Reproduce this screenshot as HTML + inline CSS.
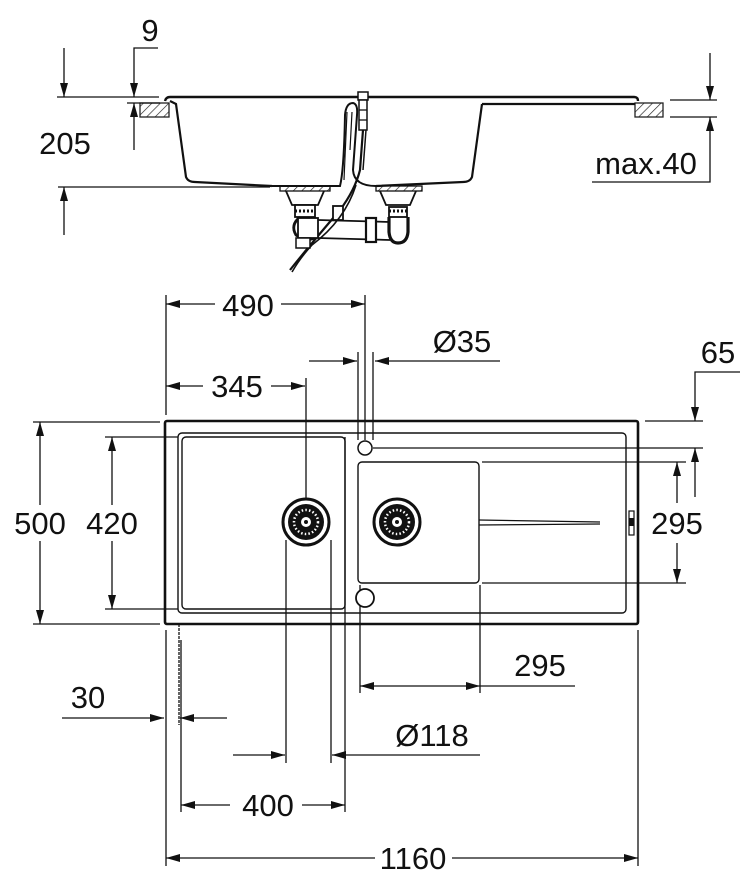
<!DOCTYPE html>
<html><head><meta charset="utf-8"><style>
html,body{margin:0;padding:0;background:#fff}
svg{display:block}
text{font-family:"Liberation Sans",Arial,sans-serif;font-size:31px;fill:#111;text-anchor:middle}
</style></head><body>
<svg width="756" height="884" viewBox="0 0 756 884" xmlns="http://www.w3.org/2000/svg">
<defs>
<marker id="a" viewBox="0 0 14 8" refX="14" refY="4" markerWidth="14" markerHeight="8" markerUnits="userSpaceOnUse" orient="auto"><path d="M0,0 L14,4 L0,8 Z" fill="#111"/></marker>
<pattern id="h" width="6" height="6" patternUnits="userSpaceOnUse" patternTransform="rotate(45)"><line x1="0" y1="0" x2="0" y2="6" stroke="#222" stroke-width="1.3"/></pattern>
<g id="drain">
<circle r="23" fill="#fff" stroke="#111" stroke-width="3"/>
<circle r="18" fill="#111"/>
<circle r="12" fill="none" stroke="#fff" stroke-width="2.5" stroke-dasharray="1.5 2.2"/>
<circle r="5" fill="#fff"/>
<circle r="2" fill="#111"/>
</g>
</defs>
<g stroke="#111" fill="none" stroke-width="1.3">
<!-- TOP SECTION -->
<rect x="140" y="103" width="29" height="14" fill="url(#h)" stroke="#222"/>
<rect x="635" y="103" width="28" height="14" fill="url(#h)" stroke="#222"/>
<line x1="57" y1="97" x2="159" y2="97"/>
<line x1="127" y1="103" x2="160" y2="103"/>
<line x1="64" y1="48" x2="64" y2="97" marker-end="url(#a)"/>
<line x1="64" y1="235" x2="64" y2="187" marker-end="url(#a)"/>
<line x1="58" y1="187" x2="270" y2="187"/>
<polyline points="158,48 134,48 134,97" marker-end="url(#a)"/>
<line x1="134" y1="150" x2="134" y2="103" marker-end="url(#a)"/>
<line x1="710" y1="53" x2="710" y2="100" marker-end="url(#a)"/>
<line x1="670" y1="100" x2="717" y2="100"/>
<line x1="670" y1="117" x2="717" y2="117"/>
<polyline points="592,182 710,182 710,117" marker-end="url(#a)"/>
<!-- sink profile -->
<path d="M165,101 Q166,97 170,97 L634,97 Q638,97 638,101" stroke-width="2.4"/>
<path d="M170,101 L176,104 L186,177 Q188,182 195,182 L272,186" stroke-width="2.2"/>
<path d="M482,104 L635,104" stroke-width="2.2"/>
<path d="M482,104 L472,177 Q470,182 463,182 L376,186" stroke-width="2.2"/>
<path d="M272,186 L283,186 L340,186 Q344,170 345,115 Q346,103 353,103 Q358,104 357,115 L353,170 Q354,186 376,186" stroke-width="2"/>
<path d="M347,112 L344,180 M352,112 L350,150" stroke-width="1.2"/>
<!-- tap -->
<rect x="358" y="92" width="10" height="8" fill="#fff" stroke-width="1.5"/>
<rect x="359" y="100" width="8" height="30" fill="#fff" stroke-width="1.5"/>
<line x1="359" y1="110" x2="367" y2="110"/><line x1="359" y1="120" x2="367" y2="120"/>
<path d="M363,130 L360,170 Q355,190 340,210 Q310,245 290,270" stroke-width="2.2"/>
<path d="M366,130 L363,170" stroke-width="1.5"/>
<!-- left drain -->
<rect x="280" y="186" width="50" height="5" fill="url(#h)"/>
<path d="M286,191 L292,205 L318,205 L324,191" stroke-width="1.8"/>
<rect x="295" y="205" width="20" height="12" fill="#fff" stroke-width="1.8"/>
<line x1="295" y1="211" x2="315" y2="211" stroke-width="3" stroke-dasharray="2 2"/>
<path d="M300,217 Q290,225 296,235 Q305,242 315,238" stroke-width="2.8"/>
<rect x="298" y="218" width="20" height="20" fill="#fff" stroke-width="1.8"/>
<rect x="296" y="238" width="14" height="10" fill="#fff" stroke-width="1.5"/>
<!-- right drain -->
<rect x="376" y="186" width="46" height="5" fill="url(#h)"/>
<path d="M380,191 L386,205 L410,205 L416,191" stroke-width="1.8"/>
<rect x="389" y="207" width="18" height="10" fill="#fff" stroke-width="1.8"/>
<line x1="389" y1="211" x2="407" y2="211" stroke-width="3" stroke-dasharray="2 2"/>
<path d="M389,217 L389,232 Q390,243 398,243 Q407,243 408,232 L408,217" stroke-width="3.2"/>
<!-- horizontal pipe -->
<path d="M318,220 L390,222 M318,238 L390,240" stroke-width="1.8"/>
<rect x="366" y="218" width="10" height="24" fill="#fff" stroke-width="2.2"/>
<rect x="333" y="206" width="10" height="14" fill="#fff" stroke-width="1.8"/>
<path d="M356,185 Q345,220 312,245 Q300,258 292,272" stroke-width="1.6"/>

<!-- PLAN VIEW dimension lines -->
<line x1="166" y1="295" x2="166" y2="415"/>
<line x1="365" y1="295" x2="365" y2="440"/>
<line x1="215" y1="304" x2="166" y2="304" marker-end="url(#a)"/>
<line x1="281" y1="304" x2="365" y2="304" marker-end="url(#a)"/>
<line x1="358" y1="352" x2="358" y2="440"/>
<line x1="373" y1="352" x2="373" y2="440"/>
<line x1="309" y1="361" x2="357" y2="361" marker-end="url(#a)"/>
<line x1="500" y1="361" x2="375" y2="361" marker-end="url(#a)"/>
<line x1="203" y1="386" x2="166" y2="386" marker-end="url(#a)"/>
<line x1="271" y1="386" x2="305" y2="386" marker-end="url(#a)"/>
<line x1="306" y1="378" x2="306" y2="500"/>
<polyline points="740,372 695,372 695,421" marker-end="url(#a)"/>
<line x1="645" y1="421" x2="703" y2="421"/>
<line x1="373" y1="448" x2="703" y2="448"/>
<line x1="695" y1="497" x2="695" y2="448" marker-end="url(#a)"/>
<line x1="482" y1="462" x2="686" y2="462"/>
<line x1="482" y1="583" x2="686" y2="583"/>
<line x1="677" y1="503" x2="677" y2="462" marker-end="url(#a)"/>
<line x1="677" y1="543" x2="677" y2="583" marker-end="url(#a)"/>
<line x1="33" y1="422" x2="160" y2="422"/>
<line x1="33" y1="624" x2="160" y2="624"/>
<line x1="40" y1="505" x2="40" y2="422" marker-end="url(#a)"/>
<line x1="40" y1="541" x2="40" y2="624" marker-end="url(#a)"/>
<line x1="105" y1="437" x2="178" y2="437"/>
<line x1="105" y1="609" x2="178" y2="609"/>
<line x1="112" y1="505" x2="112" y2="437" marker-end="url(#a)"/>
<line x1="112" y1="541" x2="112" y2="609" marker-end="url(#a)"/>
<!-- below -->
<line x1="166" y1="630" x2="166" y2="866"/>
<line x1="638" y1="630" x2="638" y2="866"/>
<line x1="179" y1="624" x2="179" y2="725" stroke-dasharray="3 1"/>
<line x1="181" y1="640" x2="181" y2="812"/>
<line x1="286" y1="540" x2="286" y2="763"/>
<line x1="331" y1="540" x2="331" y2="763"/>
<line x1="345" y1="437" x2="345" y2="812"/>
<line x1="360" y1="585" x2="360" y2="693"/>
<line x1="480" y1="585" x2="480" y2="693"/>
<line x1="575" y1="686" x2="480" y2="686"/>
<line x1="420" y1="686" x2="360" y2="686" marker-end="url(#a)"/>
<line x1="420" y1="686" x2="480" y2="686" marker-end="url(#a)"/>
<line x1="62" y1="718" x2="164" y2="718" marker-end="url(#a)"/>
<line x1="227" y1="718" x2="180" y2="718" marker-end="url(#a)"/>
<line x1="233" y1="755" x2="285" y2="755" marker-end="url(#a)"/>
<line x1="480" y1="755" x2="332" y2="755" marker-end="url(#a)"/>
<line x1="230" y1="805" x2="181" y2="805" marker-end="url(#a)"/>
<line x1="302" y1="805" x2="345" y2="805" marker-end="url(#a)"/>
<line x1="375" y1="858" x2="166" y2="858" marker-end="url(#a)"/>
<line x1="452" y1="858" x2="638" y2="858" marker-end="url(#a)"/>

<!-- SINK PLAN -->
<rect x="165" y="421" width="473" height="203" rx="2" stroke-width="2.6"/>
<rect x="178" y="433" width="448" height="180" rx="4" stroke-width="1.4"/>
<rect x="182" y="437" width="163" height="172" rx="4" stroke-width="1.4"/>
<rect x="358" y="462" width="121" height="121" rx="4" stroke-width="1.4"/>
<circle cx="365" cy="448" r="7" fill="#fff" stroke-width="1.5"/>
<circle cx="365" cy="598" r="9" fill="#fff" stroke-width="1.8"/>
<line x1="479" y1="520" x2="600" y2="522" stroke-width="1.2"/>
<line x1="479" y1="525" x2="600" y2="524" stroke-width="1.2"/>
<rect x="629" y="511" width="5" height="24" fill="#fff" stroke-width="1.2"/>
<rect x="629" y="518" width="5" height="8" fill="#111" stroke="none"/>
</g>
<use href="#drain" x="306" y="522"/>
<use href="#drain" x="397" y="522"/>

<text x="150" y="41">9</text>
<text x="65" y="154">205</text>
<text x="646" y="174">max.40</text>
<text x="248" y="316">490</text>
<text x="462" y="352">Ø35</text>
<text x="718" y="363">65</text>
<text x="237" y="397">345</text>
<text x="40" y="534">500</text>
<text x="112" y="534">420</text>
<text x="677" y="534">295</text>
<text x="540" y="676">295</text>
<text x="88" y="708">30</text>
<text x="432" y="746">Ø118</text>
<text x="268" y="816">400</text>
<text x="413" y="869">1160</text>
</svg>
</body></html>
